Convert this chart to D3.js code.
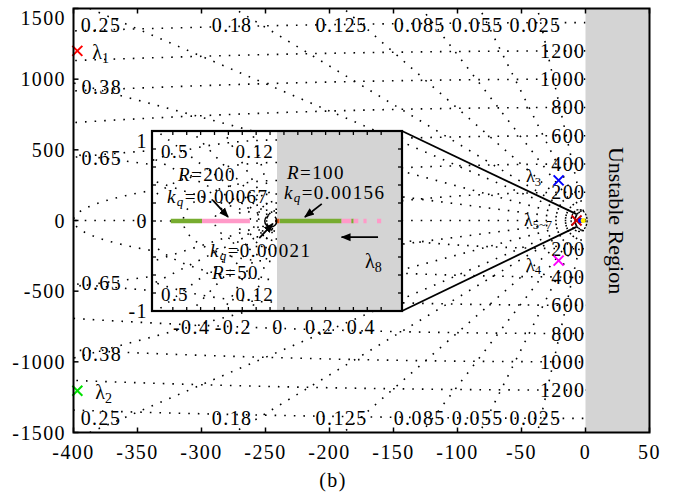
<!DOCTYPE html>
<html>
<head>
<meta charset="utf-8">
<script src="https://cdn.jsdelivr.net/npm/d3@7"></script>
<style>
body { margin: 0; background: #fff; }
text { font-family: "Liberation Serif", "Times New Roman", serif; fill: #000; }
</style>
</head>
<body>
<script>
// main s-plane grid
var zetaMain = [0.025, 0.055, 0.085, 0.125, 0.18, 0.25, 0.38, 0.65, 1];
var zetaTopLabels = [0.025, 0.055, 0.085, 0.125, 0.18, 0.25];
var zetaSideLabels = [0.38, 0.65];
var wnMain = [200, 400, 600, 800, 1000, 1200, 1400];
var wnLabels = [200, 400, 600, 800, 1000, 1200];
var xTicks = [-400, -350, -300, -250, -200, -150, -100, -50, 0, 50];
var yTicks = [-1500, -1000, -500, 0, 500, 1000, 1500];

// eigenvalues
var poleNames = ["1", "2", "3", "4", "5~7"];
var poleRe = [-397, -397, -21, -21, -7];
var poleIm = [1200, -1205, 284, -284, 0];
var poleColors = ["#ff0000", "#00e000", "#0000ff", "#ff00ff", "#cc0000"];
var extraDotsRe = [-3.9, -1.8];
var extraDotsColor = ["#0000ff", "#ffee00"];

// inset (zoom near origin)
var zetaInset = [0.12, 0.25, 0.38, 0.5, 0.65, 0.8, 1];
var zetaInsetLabels = [0.5, 0.12];
var wnInset = [0.09, 0.13, 0.2, 0.3, 0.45, 0.65, 0.9];
var insetXTickLabels = [-0.4, -0.2, 0, 0.2, 0.4];
var insetYTickLabels = [-1, 0, 1];
var locusStart = [-0.51, -0.36, -0.006, 0.014, 0.31, 0.357, 0.368, 0.415, 0.48];
var locusEnd   = [-0.36, -0.13, 0.012, 0.31, 0.357, 0.368, 0.39, 0.43, 0.5];
var locusColor = ["#77ac30", "#ff9ac8", "#d95319", "#77ac30", "#ff9ac8", "#77ac30", "#ff9ac8", "#ff9ac8", "#ff9ac8"];

var W = 676, H = 495;
var svg = d3.select("body").append("svg").attr("width", W).attr("height", H);
var defs = svg.append("defs");

var x = d3.scaleLinear().domain([-400, 50]).range([73.5, 649.5]);
var y = d3.scaleLinear().domain([-1500, 1500]).range([432.5, 8.5]);

defs.append("clipPath").attr("id", "clipMain").append("rect")
    .attr("x", x(-400)).attr("y", y(1500))
    .attr("width", x(0) - x(-400)).attr("height", y(-1500) - y(1500));

defs.append("marker").attr("id", "arrow").attr("viewBox", "0 0 10 10")
    .attr("refX", 9).attr("refY", 5).attr("markerWidth", 10).attr("markerHeight", 10)
    .attr("markerUnits", "userSpaceOnUse").attr("orient", "auto")
    .append("path").attr("d", "M0,1 L10,5 L0,9 Z").attr("fill", "#000");

function dotted(sel) {
    return sel.attr("fill", "none").attr("stroke", "#000")
        .attr("stroke-width", 1.6).attr("stroke-dasharray", "1.6,8");
}
function numText(sel, size) {
    return sel.style("font-size", size + "px").style("letter-spacing", "1.4px");
}

// unstable region
svg.append("rect").attr("x", x(0)).attr("y", y(1500))
    .attr("width", x(50) - x(0)).attr("height", y(-1500) - y(1500))
    .attr("fill", "#d4d4d4");
svg.append("text")
    .attr("transform", "translate(" + (x(25) - 1) + "," + y(0) + ") rotate(90)")
    .attr("text-anchor", "middle").attr("dominant-baseline", "central")
    .style("font-size", "22px").text("Unstable Region");

// grid helpers
function rays(zetas, R) {
    var out = [];
    zetas.forEach(function(z) {
        var s = Math.sqrt(1 - z * z);
        out.push([[0, 0], [-z * R, s * R]]);
        if (s > 0) out.push([[0, 0], [-z * R, -s * R]]);
    });
    return out;
}
function arcs(radii) {
    return radii.map(function(r) {
        return d3.range(0, 181).map(function(i) {
            var a = Math.PI / 2 + i * Math.PI / 180;
            return [r * Math.cos(a), r * Math.sin(a)];
        });
    });
}

var gGrid = svg.append("g").attr("clip-path", "url(#clipMain)");
var lineMain = d3.line().x(function(d) { return x(d[0]); }).y(function(d) { return y(d[1]); });
gGrid.selectAll("path.ray").data(rays(zetaMain, 4000)).enter().append("path")
    .attr("class", "ray").attr("d", lineMain).call(dotted);
gGrid.selectAll("path.circ").data(arcs(wnMain)).enter().append("path")
    .attr("class", "circ").attr("d", lineMain).call(dotted);

// damping labels
zetaTopLabels.forEach(function(z) {
    var xc = -1500 * z / Math.sqrt(1 - z * z);
    var cx = Math.max(x(xc) - 2, 101);
    [25, 418].forEach(function(py) {
        svg.append("text").attr("x", cx).attr("y", py)
            .attr("text-anchor", "middle").attr("dominant-baseline", "central")
            .call(numText, 20).text(z);
    });
});
zetaSideLabels.forEach(function(z) {
    var yc = 400 * Math.sqrt(1 - z * z) / z;
    [yc, -yc].forEach(function(v) {
        svg.append("text").attr("x", x(-400) + 8).attr("y", y(v) + (v > 0 ? 4 : -4))
            .attr("dominant-baseline", "central")
            .call(numText, 20).text(z);
    });
});
wnLabels.forEach(function(w) {
    [w, -w].forEach(function(v) {
        svg.append("text").attr("x", x(0) + 0).attr("y", y(v))
            .attr("text-anchor", "end").attr("dominant-baseline", "central")
            .call(numText, 20).text(w);
    });
});

// lambda label helper
function lambda(g, px, py, sub, size) {
    var t = g.append("text").attr("x", px).attr("y", py)
        .attr("dominant-baseline", "central").style("font-size", size + "px");
    t.append("tspan").text("λ");
    t.append("tspan").attr("dy", size * 0.3).style("font-size", (size * 0.7) + "px").text(sub);
}

// zoom guide lines
var zoomTip = [-7, 45];
svg.append("line").attr("x1", 402).attr("y1", 131).attr("x2", x(zoomTip[0])).attr("y2", y(zoomTip[1]))
    .attr("stroke", "#000").attr("stroke-width", 1.8);
svg.append("line").attr("x1", 402).attr("y1", 311).attr("x2", x(zoomTip[0])).attr("y2", y(-zoomTip[1]))
    .attr("stroke", "#000").attr("stroke-width", 1.8);

svg.append("ellipse").attr("cx", x(-5)).attr("cy", y(0)).attr("rx", 8).attr("ry", 11)
    .attr("fill", "none").attr("stroke", "#000").attr("stroke-width", 1.3)
    .attr("stroke-dasharray", "2,1.5");

// eigenvalue markers
poleNames.forEach(function(n, i) {
    var px = x(poleRe[i]), py = y(poleIm[i]), s = 5;
    svg.append("path")
        .attr("d", "M" + (px - s) + "," + (py - s) + "L" + (px + s) + "," + (py + s) +
                   "M" + (px - s) + "," + (py + s) + "L" + (px + s) + "," + (py - s))
        .attr("stroke", poleColors[i]).attr("stroke-width", 2).attr("fill", "none");
});
extraDotsRe.forEach(function(r, i) {
    svg.append("circle").attr("cx", x(r)).attr("cy", y(0)).attr("r", 2.5).attr("fill", extraDotsColor[i]);
});

lambda(svg, x(poleRe[0]) + 15, y(poleIm[0]) + 1, poleNames[0], 20);
lambda(svg, x(poleRe[1]) + 18, y(poleIm[1]) + 1, poleNames[1], 20);
lambda(svg, 526, y(poleIm[2]) - 4, poleNames[2], 18);
lambda(svg, 526, y(poleIm[3]) + 4, poleNames[3], 18);
lambda(svg, 524, y(0) - 1, poleNames[4], 18);

// main axes frame and ticks
svg.append("rect").attr("x", x(-400)).attr("y", y(1500))
    .attr("width", x(50) - x(-400)).attr("height", y(-1500) - y(1500))
    .attr("fill", "none").attr("stroke", "#000").attr("stroke-width", 2);
xTicks.forEach(function(t) {
    svg.append("line").attr("x1", x(t)).attr("x2", x(t)).attr("y1", y(-1500)).attr("y2", y(-1500) - 5)
        .attr("stroke", "#000").attr("stroke-width", 1.5);
    svg.append("line").attr("x1", x(t)).attr("x2", x(t)).attr("y1", y(1500)).attr("y2", y(1500) + 5)
        .attr("stroke", "#000").attr("stroke-width", 1.5);
    svg.append("text").attr("x", x(t)).attr("y", 452)
        .attr("text-anchor", "middle").attr("dominant-baseline", "central")
        .call(numText, 20).text(t);
});
yTicks.forEach(function(t) {
    svg.append("line").attr("x1", x(-400)).attr("x2", x(-400) + 5).attr("y1", y(t)).attr("y2", y(t))
        .attr("stroke", "#000").attr("stroke-width", 1.5);
    svg.append("text").attr("x", 66).attr("y", t === 1500 ? y(t) + 9 : y(t))
        .attr("text-anchor", "end").attr("dominant-baseline", "central")
        .call(numText, 20).text(t);
});
svg.append("text").attr("x", 333).attr("y", 480)
    .attr("text-anchor", "middle").attr("dominant-baseline", "central")
    .call(numText, 20).text("(b)");

// ---------------- inset ----------------
var xi = d3.scaleLinear().domain([-0.6, 0.6]).range([152, 402]);
var yi = d3.scaleLinear().domain([-1, 1]).range([311, 131]);
var lineInset = d3.line().x(function(d) { return xi(d[0]); }).y(function(d) { return yi(d[1]); });

defs.append("clipPath").attr("id", "clipInset").append("rect")
    .attr("x", xi(-0.6)).attr("y", yi(1)).attr("width", xi(0) - xi(-0.6)).attr("height", yi(-1) - yi(1));

var gi = svg.append("g");
gi.append("rect").attr("x", xi(-0.6)).attr("y", yi(1))
    .attr("width", xi(0.6) - xi(-0.6)).attr("height", yi(-1) - yi(1)).attr("fill", "#fff");
gi.append("rect").attr("x", xi(0)).attr("y", yi(1))
    .attr("width", xi(0.6) - xi(0)).attr("height", yi(-1) - yi(1)).attr("fill", "#d4d4d4");

var giGrid = gi.append("g").attr("clip-path", "url(#clipInset)");
giGrid.selectAll("path.ray").data(rays(zetaInset, 3)).enter().append("path")
    .attr("class", "ray").attr("d", lineInset).call(dotted);
giGrid.selectAll("path.circ").data(arcs(wnInset)).enter().append("path")
    .attr("class", "circ").attr("d", lineInset).call(dotted);

zetaInsetLabels.forEach(function(z) {
    var xc = -z / Math.sqrt(1 - z * z);
    var cx = Math.max(xi(xc) + 3, 175);
    [151, 294].forEach(function(py) {
        gi.append("text").attr("x", cx).attr("y", py)
            .attr("text-anchor", "middle").attr("dominant-baseline", "central")
            .call(numText, 19).text(z);
    });
});

// locus segments
locusStart.forEach(function(s, i) {
    gi.append("line").attr("x1", xi(s)).attr("x2", xi(locusEnd[i]))
        .attr("y1", yi(0)).attr("y2", yi(0))
        .attr("stroke", locusColor[i]).attr("stroke-width", 4.5);
});

// small ring at origin
var rc = [xi(-0.03), yi(0)];
gi.append("path")
    .attr("d", d3.arc()({innerRadius: 6, outerRadius: 6, startAngle: 0.25 * Math.PI, endAngle: 1.75 * Math.PI}))
    .attr("transform", "translate(" + rc[0] + "," + rc[1] + ")")
    .attr("fill", "none").attr("stroke", "#000").attr("stroke-width", 1.5);

// arrows
function arrow(x1, y1, x2, y2) {
    gi.append("line").attr("x1", xi(x1)).attr("y1", yi(y1)).attr("x2", xi(x2)).attr("y2", yi(y2))
        .attr("stroke", "#000").attr("stroke-width", 1.8).attr("marker-end", "url(#arrow)");
}
arrow(-0.307, 0.23, -0.235, 0.045);
arrow(0.215, 0.19, 0.134, 0.045);
arrow(-0.085, -0.19, -0.02, -0.03);
arrow(0.485, -0.18, 0.31, -0.18);

// annotation text
function rText(px, py, val) {
    var t = gi.append("text").attr("x", px).attr("y", py)
        .attr("dominant-baseline", "central").call(numText, 19);
    t.append("tspan").style("font-style", "italic").text("R");
    t.append("tspan").text("=" + val);
}
function kText(px, py, val) {
    var t = gi.append("text").attr("x", px).attr("y", py)
        .attr("dominant-baseline", "central").call(numText, 19);
    t.append("tspan").style("font-style", "italic").text("k");
    t.append("tspan").style("font-style", "italic").style("font-size", "13px").attr("dy", 5).text("q");
    t.append("tspan").attr("dy", -5).text("=" + val);
}
rText(178, 174, "200");
kText(167, 196, "0.00067");
rText(287, 172, "100");
kText(284, 192, "0.00156");
kText(210, 250, "0.00021");
rText(212, 272, "50");
lambda(gi, 365, 261, "8", 20);

// inset frame, ticks
gi.append("rect").attr("x", xi(-0.6)).attr("y", yi(1))
    .attr("width", xi(0.6) - xi(-0.6)).attr("height", yi(-1) - yi(1))
    .attr("fill", "none").attr("stroke", "#000").attr("stroke-width", 2.2);
d3.range(-0.5, 0.51, 1 / 15).forEach(function(t) {
    gi.append("line").attr("x1", xi(t)).attr("x2", xi(t)).attr("y1", yi(-1)).attr("y2", yi(-1) - 4)
        .attr("stroke", "#000").attr("stroke-width", 1.3);
    gi.append("line").attr("x1", xi(t)).attr("x2", xi(t)).attr("y1", yi(1)).attr("y2", yi(1) + 4)
        .attr("stroke", "#000").attr("stroke-width", 1.3);
});
d3.range(-0.8, 0.81, 0.2).forEach(function(t) {
    gi.append("line").attr("x1", xi(-0.6)).attr("x2", xi(-0.6) + 4).attr("y1", yi(t)).attr("y2", yi(t))
        .attr("stroke", "#000").attr("stroke-width", 1.3);
    gi.append("line").attr("x1", xi(0.6)).attr("x2", xi(0.6) - 4).attr("y1", yi(t)).attr("y2", yi(t))
        .attr("stroke", "#000").attr("stroke-width", 1.3);
});
insetXTickLabels.forEach(function(t) {
    gi.append("text").attr("x", xi(t) + (t < 0 ? -2 : 1)).attr("y", 327)
        .attr("text-anchor", "middle").attr("dominant-baseline", "central")
        .call(numText, 20).text(t);
});
insetYTickLabels.forEach(function(t) {
    gi.append("text").attr("x", 148).attr("y", t === 1 ? yi(t) + 10 : yi(t))
        .attr("text-anchor", "end").attr("dominant-baseline", "central")
        .call(numText, 20).text(t);
});
</script>
</body>
</html>
